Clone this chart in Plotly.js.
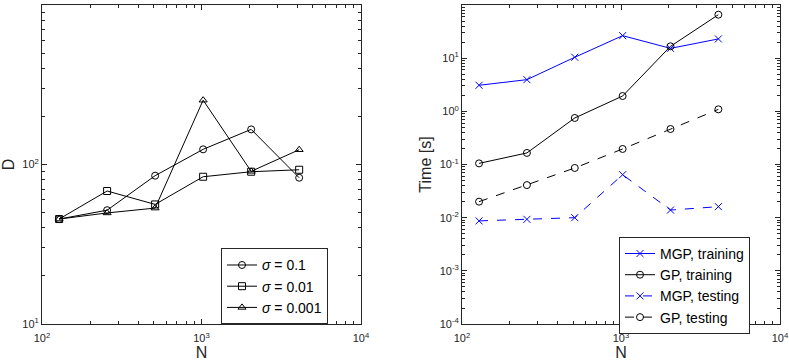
<!DOCTYPE html>
<html>
<head>
<meta charset="utf-8">
<script src="https://cdn.plot.ly/plotly-3.0.1.min.js"></script>
<style>
  html, body { margin: 0; padding: 0; background: #fff; }
  #plot { width: 789px; height: 361px; }
</style>
</head>
<body>
<div id="plot"></div>
<script>
// ---- data ----
const N = [128, 256, 512, 1024, 2048, 4096];

// left panel: D
const dSigma1 = [45.5, 51.7, 85.1, 124.5, 166, 82.6];
const dSigma01 = [45.5, 68.2, 56.2, 83.8, 90.1, 92.7];
const dSigma001 = [45.5, 49.7, 53.3, 253, 90.6, 123.8];

// right panel: time [s]
const mgpTrain = [3.09, 3.94, 10.4, 26.5, 15.3, 23.0];
const gpTrain = [0.105, 0.165, 0.75, 1.94, 16.7, 65.7];
const mgpTest = [0.0087, 0.0093, 0.0100, 0.0643, 0.0139, 0.0161];
const gpTest = [0.020, 0.041, 0.086, 0.196, 0.465, 1.09];

// tick exponents
const xExp = [2, 3, 4];
const dExp = [1, 2, 3];
const tExp = [-4, -3, -2, -1, 0, 1, 2];

const axisGrey = '#262626';
const font = 'Liberation Sans, Arial, sans-serif';

function line(x, y, name, color, symbol, dash, xa, ya, legend) {
  return {
    type: 'scatter', mode: 'lines+markers',
    x: x, y: y, name: name, xaxis: xa, yaxis: ya, legend: legend,
    line: { color: color, width: 1, dash: dash },
    marker: { symbol: symbol, size: 7, color: color, line: { color: color, width: 1 } }
  };
}

const data = [
  line(N, dSigma1, '<i>σ</i> = 0.1', 'black', 'circle-open', 'solid', 'x', 'y', 'legend'),
  line(N, dSigma01, '<i>σ</i> = 0.01', 'black', 'square-open', 'solid', 'x', 'y', 'legend'),
  line(N, dSigma001, '<i>σ</i> = 0.001', 'black', 'triangle-up-open', 'solid', 'x', 'y', 'legend'),
  line(N, mgpTrain, 'MGP, training', '#0000ff', 'x-thin-open', 'solid', 'x2', 'y2', 'legend2'),
  line(N, gpTrain, 'GP, training', 'black', 'circle-open', 'solid', 'x2', 'y2', 'legend2'),
  line(N, mgpTest, 'MGP, testing', '#0000ff', 'x-thin-open', 'dash', 'x2', 'y2', 'legend2'),
  line(N, gpTest, 'GP, testing', 'black', 'circle-open', 'dash', 'x2', 'y2', 'legend2')
];

// minor ticks at 2..9 times each decade
function minorVals(exps) {
  const v = [];
  for (let i = 0; i < exps.length - 1; i++) {
    for (let m = 2; m <= 9; m++) v.push(m * Math.pow(10, exps[i]));
  }
  return v;
}

function logAxis(exps, title, extra) {
  return Object.assign({
    type: 'log', range: [exps[0], exps[exps.length - 1]],
    tickmode: 'array',
    tickvals: exps.map(e => Math.pow(10, e)),
    ticktext: exps.map(e => '10<sup>' + e + '</sup>'),
    ticks: 'inside', ticklen: 5, tickcolor: axisGrey,
    mirror: 'allticks', showline: true, linecolor: axisGrey, linewidth: 1,
    showgrid: false, zeroline: false,
    tickfont: { family: font, size: 11, color: axisGrey },
    minor: {
      tickmode: 'array', tickvals: minorVals(exps),
      ticks: 'inside', ticklen: 3, tickcolor: axisGrey, showgrid: false
    },
    title: { text: title, font: { family: font, size: 16, color: axisGrey }, standoff: 4 }
  }, extra);
}

const layout = {
  width: 789, height: 361,
  margin: { l: 0, r: 0, t: 5, b: 37 },
  paper_bgcolor: 'white', plot_bgcolor: 'white',
  showlegend: true,
  xaxis: logAxis(xExp, 'N', { domain: [42 / 789, 361 / 789], anchor: 'y', ticklabelstandoff: 4 }),
  yaxis: logAxis(dExp, 'D', { anchor: 'x' }),
  xaxis2: logAxis(xExp, 'N', { domain: [462 / 789, 780 / 789], anchor: 'y2', ticklabelstandoff: 4 }),
  yaxis2: logAxis(tExp, 'Time [s]', { anchor: 'x2' }),
  legend: {
    x: 221 / 789, y: 0.237, xanchor: 'left', yanchor: 'top',
    bgcolor: 'white', bordercolor: axisGrey, borderwidth: 1,
    font: { family: font, size: 14, color: 'black' }
  },
  legend2: {
    x: 619 / 789, y: 0.273, xanchor: 'left', yanchor: 'top',
    bgcolor: 'white', bordercolor: axisGrey, borderwidth: 1,
    font: { family: font, size: 14, color: 'black' }
  }
};

Plotly.newPlot('plot', data, layout, { displayModeBar: false, staticPlot: true });
</script>
</body>
</html>
